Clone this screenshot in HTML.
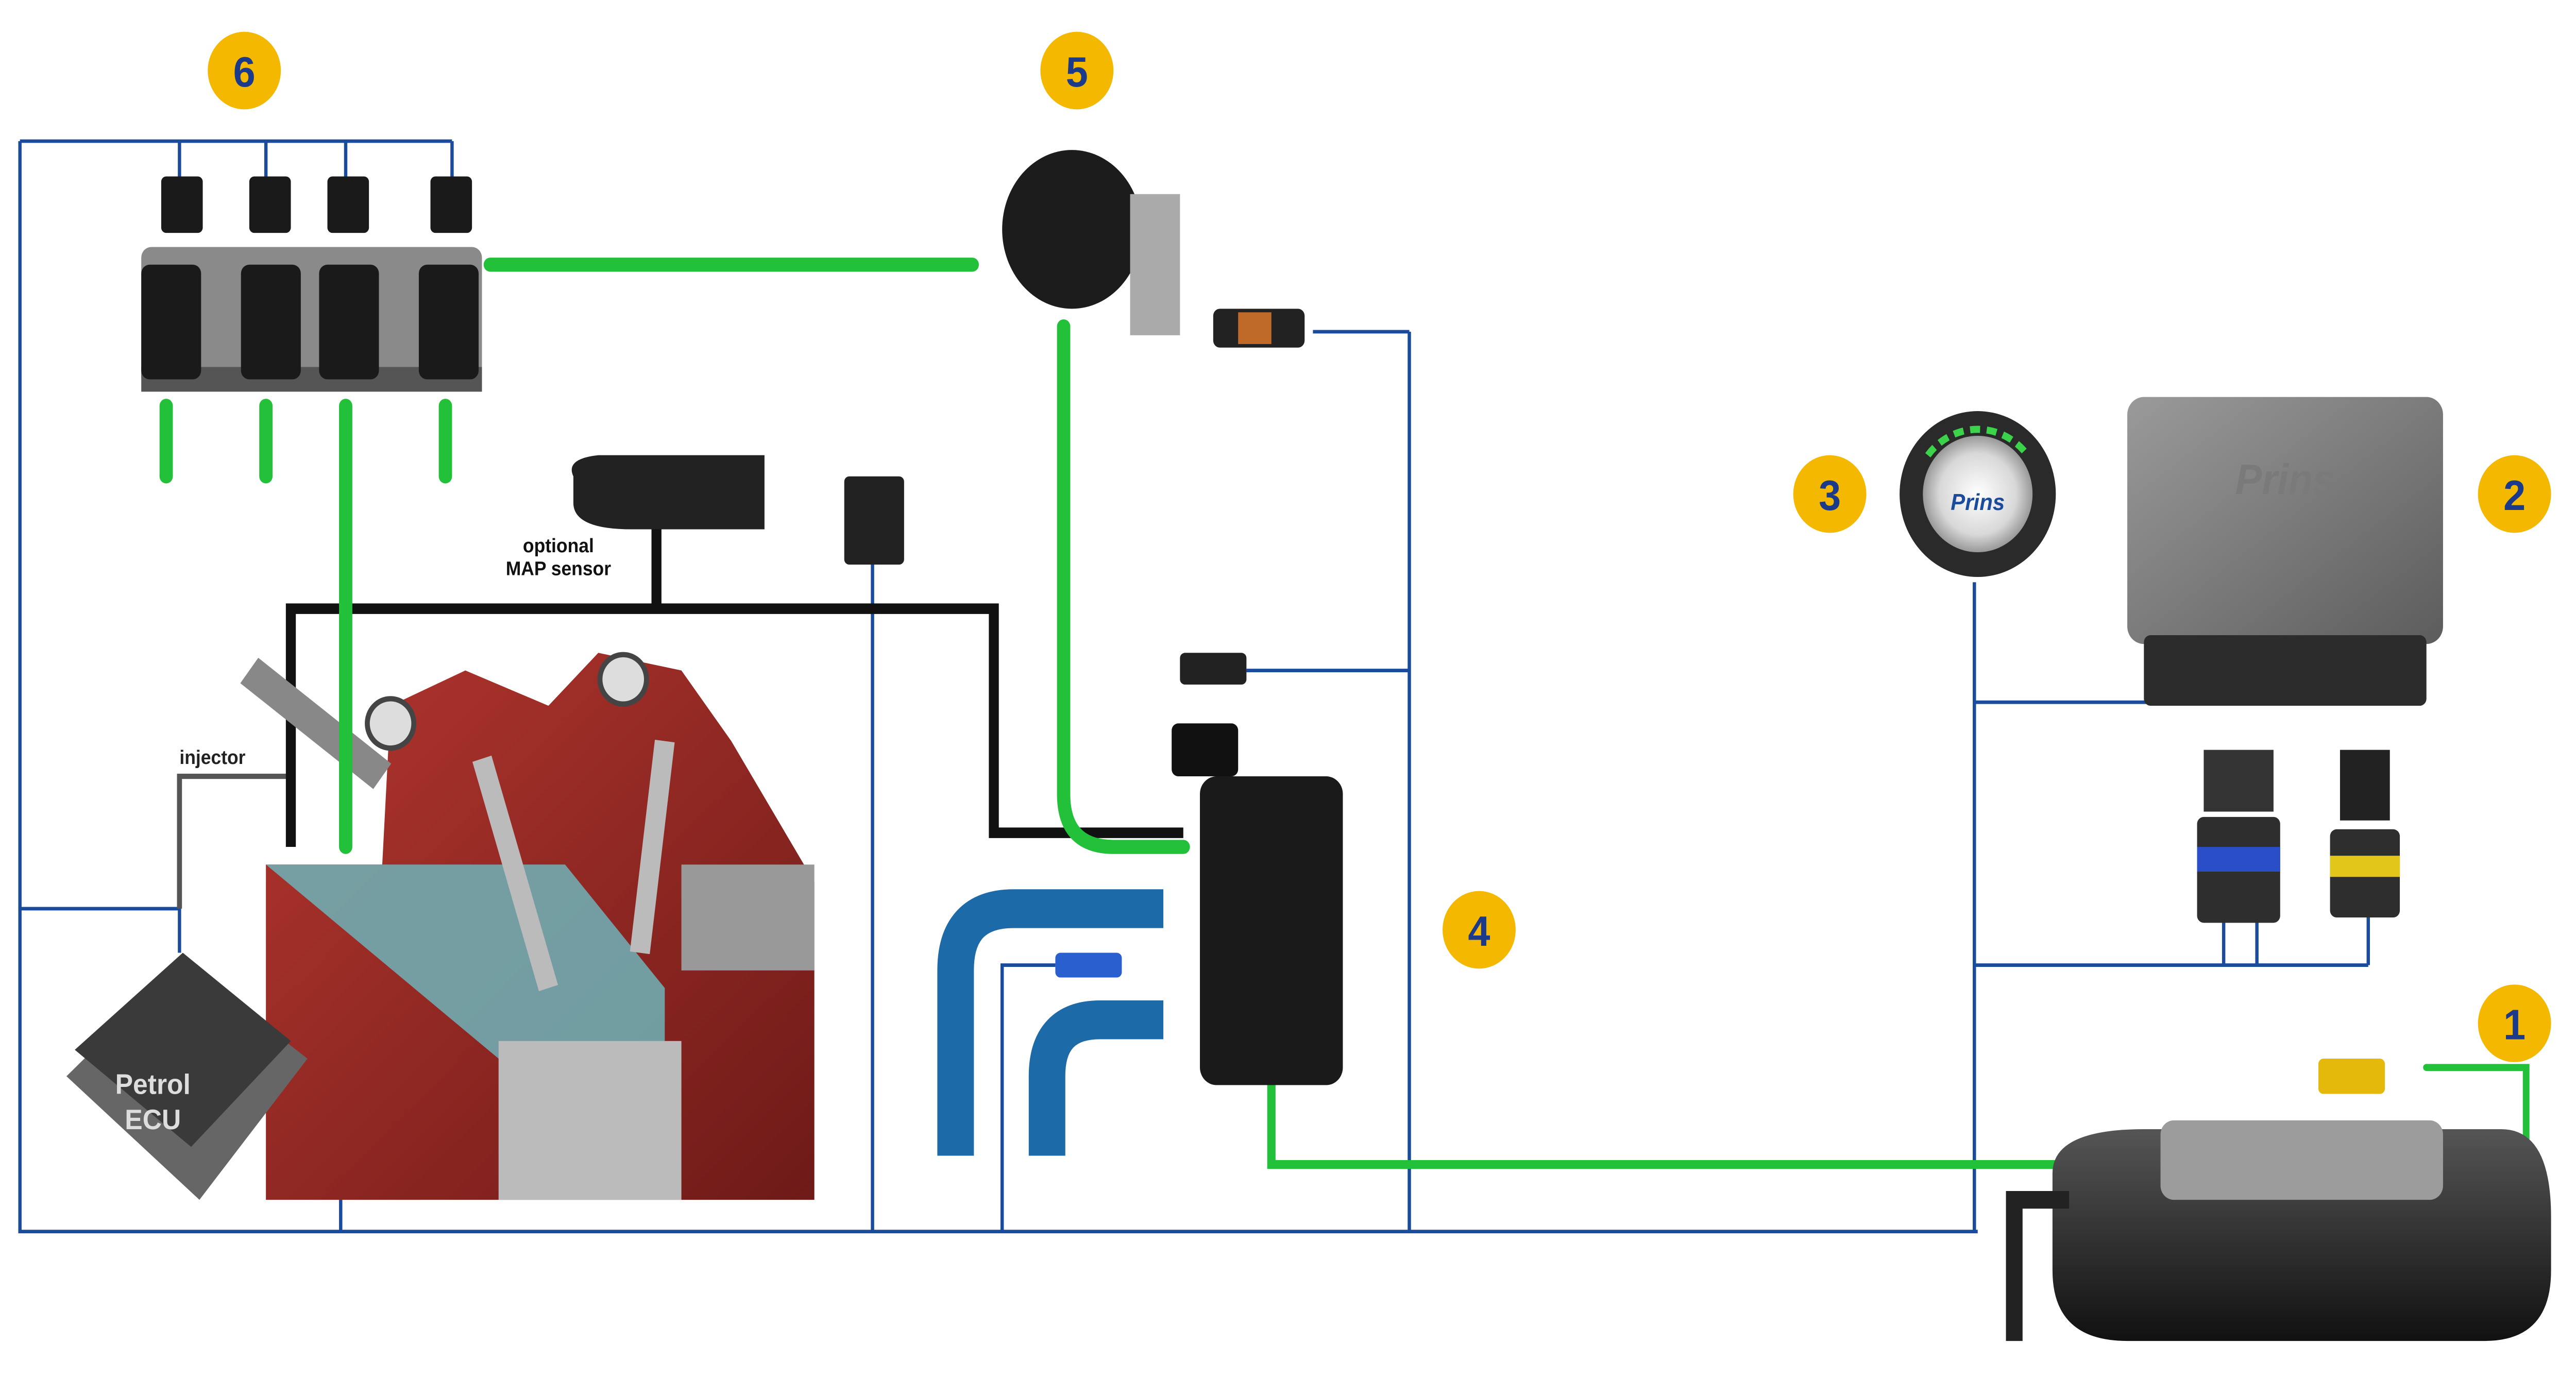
<!DOCTYPE html>
<html><head><meta charset="utf-8"><style>
html,body{margin:0;padding:0;background:#fff;width:100%;height:100%;overflow:hidden;}
svg{display:block;width:100vw;height:100vh;}
text{font-family:"Liberation Sans","Noto Sans CJK SC",sans-serif;}
</style></head><body>
<svg viewBox="0 0 1550 781" preserveAspectRatio="none" xmlns="http://www.w3.org/2000/svg">
<defs>
<linearGradient id="red" x1="0" y1="0" x2="1" y2="1"><stop offset="0" stop-color="#b3362e"/><stop offset="1" stop-color="#6e1a18"/></linearGradient>
<linearGradient id="tank" x1="0" y1="0" x2="0" y2="1"><stop offset="0" stop-color="#555"/><stop offset="1" stop-color="#111"/></linearGradient>
<linearGradient id="ecu" x1="0" y1="0" x2="1" y2="1"><stop offset="0" stop-color="#9a9a9a"/><stop offset="1" stop-color="#5c5c5c"/></linearGradient>
<radialGradient id="btn"><stop offset="0" stop-color="#fff"/><stop offset="0.7" stop-color="#d8d8d8"/><stop offset="1" stop-color="#999"/></radialGradient>
</defs>
<g stroke="#1b4b9b" stroke-width="2" fill="none">
<path d="M12 80H272M108 80V100M160 80V100M208 80V100M272 80V100"/>
<path d="M12 80V698H1190"/>
<path d="M1188 330V698M1188 398H1300M1188 547H1425M1338 547V520M1358 547V520M1425 547V520M1188 660H1240"/>
<path d="M848 188V698M790 188H848M750 380H848"/>
<path d="M525 320V698M603 698V547H635M205 698V568H175M12 515H108V540"/>
</g>
<path d="M175 440H108V515" stroke="#555" stroke-width="3" fill="none"/>
<g stroke="#111" stroke-width="6" fill="none">
<path d="M175 480V345H598V472H712"/>
<path d="M395 300V345"/>
</g>
<path d="M160 490 L230 490 L235 400 L280 380 L330 400 L360 370 L410 380 L440 420 L490 500 L490 680 L160 680Z" fill="url(#red)"/>
<path d="M160 490 H340 L400 560 V600 H300 Z" fill="#6fb3b8" opacity="0.85"/>
<rect x="300" y="590" width="110" height="90" fill="#bbb"/>
<rect x="410" y="490" width="80" height="60" fill="#999"/>
<path d="M150 380 L230 440" stroke="#888" stroke-width="18"/>
<circle cx="235" cy="410" r="14" fill="#ddd" stroke="#444" stroke-width="3"/>
<circle cx="375" cy="385" r="14" fill="#ddd" stroke="#444" stroke-width="3"/>
<path d="M290 430 L330 560 M400 420 L385 540" stroke="#bbb" stroke-width="12"/>
<path d="M40 610 L110 545 L185 600 L120 680Z" fill="#666"/>
<path d="M45 595 L110 540 L175 590 L115 650Z" fill="#3a3a3a"/>
<text x="92" y="620" font-size="16" font-weight="bold" fill="#ddd" text-anchor="middle">Petrol</text>
<text x="92" y="640" font-size="16" font-weight="bold" fill="#ddd" text-anchor="middle">ECU</text>
<text x="108" y="433" font-size="11" font-weight="bold" fill="#222">injector</text>
<text x="336" y="313" font-size="11" font-weight="bold" fill="#111" text-anchor="middle">optional</text>
<text x="336" y="326" font-size="11" font-weight="bold" fill="#111" text-anchor="middle">MAP sensor</text>
<path d="M345 270 Q340 260 360 258 H460 V300 H380 Q345 300 345 285Z" fill="#222"/>
<rect x="508" y="270" width="36" height="50" rx="3" fill="#222"/>
<g stroke="#23c03a" stroke-width="8" fill="none" stroke-linecap="round">
<path d="M295 150H585"/>
<path d="M640 185V450Q640 480 670 480H712"/>
<path d="M100 230V270M160 230V270M208 230V480M268 230V270"/>
<path d="M765 615V660H1290" stroke-width="5"/>
<path d="M1450 650H1520V605H1460" stroke-width="4"/>
</g>
<rect x="85" y="140" width="205" height="80" rx="6" fill="#8a8a8a"/>
<rect x="85" y="208" width="205" height="14" fill="#555"/>
<g fill="#1a1a1a">
<rect x="97" y="100" width="25" height="32" rx="3"/><rect x="150" y="100" width="25" height="32" rx="3"/>
<rect x="197" y="100" width="25" height="32" rx="3"/><rect x="259" y="100" width="25" height="32" rx="3"/>
<rect x="85" y="150" width="36" height="65" rx="5"/><rect x="145" y="150" width="36" height="65" rx="5"/>
<rect x="192" y="150" width="36" height="65" rx="5"/><rect x="252" y="150" width="36" height="65" rx="5"/>
</g>
<ellipse cx="645" cy="130" rx="42" ry="45" fill="#1c1c1c"/>
<rect x="680" y="110" width="30" height="80" fill="#aaa"/>
<rect x="730" y="175" width="55" height="22" rx="4" fill="#222"/><rect x="745" y="177" width="20" height="18" fill="#c06a2a"/>
<rect x="710" y="370" width="40" height="18" rx="3" fill="#222"/>
<rect x="722" y="440" width="86" height="175" rx="10" fill="#1a1a1a"/>
<rect x="705" y="410" width="40" height="30" rx="4" fill="#111"/>
<g stroke="#1d6aa8" stroke-width="22" fill="none">
<path d="M575 655V550Q575 515 610 515H700"/>
<path d="M630 655V610Q630 578 662 578H700"/>
</g>
<rect x="635" y="540" width="40" height="14" rx="3" fill="#2a5fd0"/>
<circle cx="1190" cy="280" r="47" fill="#2a2a2a"/>
<circle cx="1190" cy="280" r="33" fill="url(#btn)"/>
<text x="1190" y="289" font-size="13" font-weight="bold" font-style="italic" fill="#1b4b9b" text-anchor="middle">Prins</text>
<path d="M1160 258 A38 38 0 0 1 1220 258" stroke="#3bd34a" stroke-width="4" stroke-dasharray="6 4" fill="none"/>
<rect x="1280" y="225" width="190" height="140" rx="10" fill="url(#ecu)"/>
<rect x="1290" y="360" width="170" height="40" rx="4" fill="#2c2c2c"/>
<text x="1375" y="280" font-size="24" font-weight="bold" font-style="italic" fill="#7a7a7a" text-anchor="middle">Prins</text>
<rect x="1326" y="425" width="42" height="35" fill="#333"/>
<rect x="1322" y="463" width="50" height="60" rx="4" fill="#2e2e2e"/><rect x="1322" y="480" width="50" height="14" fill="#2a4ec8"/>
<rect x="1408" y="425" width="30" height="40" fill="#222"/>
<rect x="1402" y="470" width="42" height="50" rx="4" fill="#2e2e2e"/><rect x="1402" y="485" width="42" height="12" fill="#e2c61a"/>
<path d="M1235 665 Q1235 640 1290 640 H1505 Q1535 640 1535 690 V720 Q1535 760 1495 760 H1280 Q1235 760 1235 720Z" fill="url(#tank)"/>
<rect x="1300" y="635" width="170" height="45" rx="8" fill="#9c9c9c"/>
<path d="M1212 760V680H1245" stroke="#222" stroke-width="10" fill="none"/>
<rect x="1395" y="600" width="40" height="20" rx="3" fill="#e5b80c"/>
<g fill="#f5b800">
<circle cx="147" cy="40" r="22"/><circle cx="648" cy="40" r="22"/><circle cx="1101" cy="280" r="22"/>
<circle cx="1513" cy="280" r="22"/><circle cx="890" cy="527" r="22"/><circle cx="1513" cy="580" r="22"/>
</g>
<g font-size="24" font-weight="bold" fill="#1b3a8a" text-anchor="middle">
<text x="147" y="49">6</text><text x="648" y="49">5</text><text x="1101" y="289">3</text>
<text x="1513" y="289">2</text><text x="890" y="536">4</text><text x="1513" y="589">1</text>
</g>
</svg>
</body></html>
